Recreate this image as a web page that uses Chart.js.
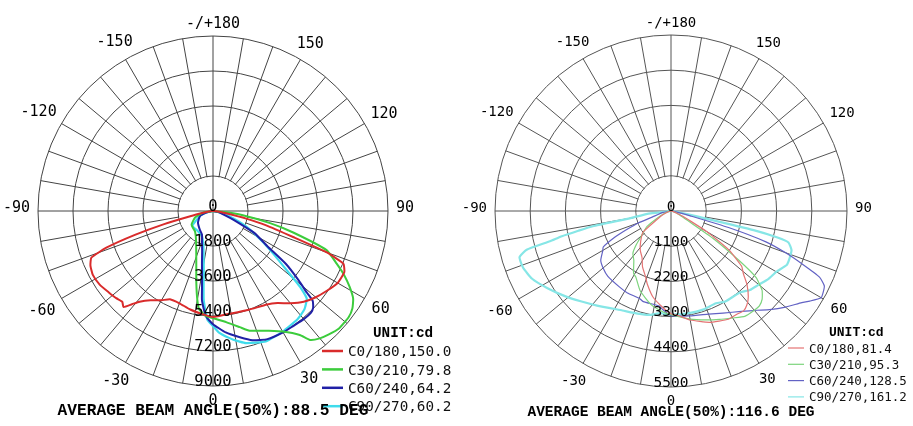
<!DOCTYPE html>
<html><head><meta charset="utf-8">
<script src="https://cdn.jsdelivr.net/npm/chart.js@4/dist/chart.umd.min.js"></script>
<style>
html,body{margin:0;padding:0;background:#fff;width:913px;height:426px;overflow:hidden}
#leftChart{position:absolute;left:0;top:0}
#rightChart{position:absolute;left:456px;top:0}
</style></head><body>
<canvas id="leftChart" width="456" height="426"></canvas>
<canvas id="rightChart" width="457" height="426"></canvas>
<script>
// ---------- categories / tick labels ----------
const angleMarks = [180, 150, 120, 90, 60, 30, 0, -30, -60, -90, -120, -150];
const angleMarkLabels = ['-/+180', '150', '120', '90', '60', '30', '0', '-30', '-60', '-90', '-120', '-150'];
const leftTicks = [0, 1800, 3600, 5400, 7200, 9000];
const rightTicks = [0, 1100, 2200, 3300, 4400, 5500];
const planeNames = ['C0/180', 'C30/210', 'C60/240', 'C90/270'];
const leftBeamAngles = [150.0, 79.8, 64.2, 60.2];
const rightBeamAngles = [81.4, 95.3, 128.5, 161.2];
const leftAverageBeam = 88.5;
const rightAverageBeam = 116.6;
const unitText = 'UNIT:cd';

// ---------- series values: [gamma angle (deg), intensity (cd)] ----------
const leftC0 = [[90,0],[85,200],[80,620],[77,1750],[75,2800],[72,4330],[70,6230],[68,7230],[65,7450],[60,7400],[55,7150],[50,6900],[45,6600],[40,6200],[35,5780],[30,5550],[20,5400],[10,5350],[0,5450],[-5,5350],[-13,5200],[-20,5050],[-26,5050],[-30,5300],[-35,5600],[-39,6000],[-41,6350],[-43,6750],[-45,6600],[-48,6700],[-52,6800],[-57,6950],[-62,7000],[-66,6900],[-69,6700],[-71,5800],[-73,4200],[-75,2600],[-77,1200],[-80,450],[-85,150],[-90,0]];
const leftC30 = [[90,0],[85,600],[82,1500],[78,3000],[75,4270],[71,6180],[67,6900],[64,7500],[61,8030],[58,8500],[55,8750],[52,8860],[47,8860],[43,8700],[40,8550],[37,8300],[35,7780],[30,7160],[25,6800],[21,6590],[17,6440],[13,6130],[7,5770],[0,5510],[-4,5410],[-8,5100],[-10,4640],[-13,3810],[-17,2940],[-22,2300],[-28,1850],[-35,1550],[-42,1390],[-50,1350],[-58,1300],[-70,980],[-81,520],[-90,0]];
const leftC60 = [[90,0],[80,260],[70,720],[67,1130],[62,2420],[57,3350],[54,4640],[51,5670],[49,6390],[48,6900],[46,7160],[44,7260],[40,7260],[35,7210],[30,7210],[23,7160],[17,6950],[12,6640],[6,6280],[0,5820],[-4,5410],[-7,4640],[-8,4070],[-10,3250],[-12,2730],[-15,2160],[-20,1650],[-25,1340],[-35,1180],[-52,980],[-69,720],[-76,360],[-85,100],[-90,0]];
const leftC90 = [[90,0],[80,260],[72,900],[65,1900],[59,2830],[55,3710],[52,4580],[49,5920],[47,6590],[43,6900],[38,7060],[30,7160],[22,7240],[14,7000],[9,6700],[3,6280],[0,5920],[-3,5590],[-6,4580],[-9,3040],[-12,2330],[-16,1800],[-25,1390],[-40,1290],[-54,1310],[-69,720],[-80,260],[-90,0]];

const rightC0 = [[90,0],[80,60],[70,160],[66,370],[63,640],[60,1300],[56,2190],[52,2800],[49,3000],[46,3300],[42,3610],[39,3770],[36,3860],[33,3830],[28,3830],[19,3680],[10,3460],[5,3300],[0,3210],[-5,3020],[-12,2740],[-18,2400],[-21,2210],[-27,1960],[-32,1710],[-38,1560],[-45,1340],[-53,1090],[-59,500],[-65,310],[-75,90],[-90,0]];
const rightC30 = [[90,0],[75,90],[65,310],[60,640],[57,1560],[54,2620],[52,3370],[49,3770],[46,3960],[43,4050],[40,4050],[35,4020],[30,3860],[24,3710],[18,3580],[10,3430],[0,3240],[-5,3150],[-12,2990],[-21,2680],[-28,2340],[-31,2270],[-37,1930],[-42,1780],[-46,1500],[-51,1150],[-57,900],[-65,370],[-75,120],[-90,0]];
const rightC60 = [[90,0],[85,60],[80,190],[76,620],[74,1870],[72,3120],[70,3800],[68,4420],[66,5080],[64,5330],[62,5390],[60,5420],[57,5170],[55,4990],[50,4670],[45,4360],[41,4110],[35,3830],[27,3580],[20,3430],[10,3330],[0,3270],[-5,3080],[-7,2990],[-17,2960],[-20,2900],[-28,2900],[-34,2870],[-44,2840],[-50,2770],[-55,2680],[-60,2460],[-62,2400],[-65,1930],[-67,1560],[-70,1090],[-72,620],[-80,250],[-90,0]];
const rightC90 = [[90,0],[85,90],[80,310],[78,930],[77,2650],[76,3430],[75,3800],[72,3960],[68,3990],[65,3990],[60,3800],[55,3710],[50,3580],[45,3490],[40,3330],[31,3300],[26,3210],[18,3240],[10,3240],[0,3240],[-6,3210],[-12,3320],[-18,3370],[-26,3460],[-38,3750],[-45,3990],[-51,4240],[-58,4550],[-64,4830],[-69,4950],[-73,4950],[-75,4670],[-76,3900],[-77,3500],[-78,2960],[-79,2490],[-80,1250],[-83,780],[-90,0]];

// ---------- helpers ----------
const gammaLabels = Array.from({length: 360}, (_, i) => 180 - i); // clockwise from top
function indexOfGamma(g) { return ((180 - g) % 360 + 360) % 360; }
function toRadarData(pairs) {
  const d = new Array(gammaLabels.length).fill(null);
  pairs.forEach(([g, v]) => { d[indexOfGamma(g)] = v; });
  return d;
}

function decorPlugin(o) {
  return {
    id: 'polarDecor',
    beforeDatasetsDraw(chart) {
      const s = chart.scales.r, ctx = chart.ctx;
      const r1 = s.getDistanceFromCenterForValue(o.ticks[1]);
      ctx.save();
      ctx.fillStyle = '#fff';
      ctx.beginPath(); ctx.arc(s.xCenter, s.yCenter, r1 - 0.7, 0, Math.PI * 2); ctx.fill();
      ctx.strokeStyle = o.gridColor; ctx.lineWidth = 1;
      [180, 90, 0, -90].forEach(g => {
        const p = s.getPointPosition(indexOfGamma(g), r1);
        ctx.beginPath(); ctx.moveTo(s.xCenter, s.yCenter); ctx.lineTo(p.x, p.y); ctx.stroke();
      });
      ctx.restore();
    },
    afterDatasetsDraw(chart) {
      const s = chart.scales.r, ctx = chart.ctx;
      const cx = s.xCenter, cy = s.yCenter, R = s.drawingArea;
      ctx.save();
      ctx.fillStyle = '#000';
      // radial tick labels along gamma = 0
      ctx.font = o.tickFont + 'px "DejaVu Sans Mono"';
      ctx.textAlign = 'center'; ctx.textBaseline = 'alphabetic';
      o.ticks.forEach(v => {
        const p = s.getPointPositionForValue(indexOfGamma(0), v);
        ctx.fillText(String(v), p.x, p.y - 0.5);
      });
      // angle labels
      ctx.font = o.angleFont + 'px "DejaVu Sans Mono"';
      const capH = 0.73 * o.angleFont;
      angleMarks.forEach((g, k) => {
        const txt = angleMarkLabels[k];
        const p = s.getPointPosition(indexOfGamma(g), 100);
        const ux = (p.x - cx) / 100, uy = (p.y - cy) / 100;
        const w = ctx.measureText(txt).width;
        const dist = R + o.labelPad + Math.abs(ux) * w / 2 + Math.abs(uy) * capH / 2;
        const yShift = Math.abs(ux) > 0.99 ? -4 : 0;
        ctx.fillText(txt, cx + ux * dist, cy + uy * dist + capH / 2 + yShift);
      });
      // legend
      ctx.textAlign = 'left';
      ctx.font = 'bold ' + o.unitFont + 'px "Liberation Mono"';
      ctx.fillText(unitText, o.unitX, o.unitY + 0.6 * o.unitFont / 2);
      ctx.font = o.legendFont + 'px "DejaVu Sans Mono"';
      chart.data.datasets.forEach((ds, i) => {
        const y = o.legendY0 + i * o.legendDy;
        ctx.strokeStyle = ds.borderColor; ctx.lineWidth = o.legendLineW;
        ctx.beginPath(); ctx.moveTo(o.lineX0, y); ctx.lineTo(o.lineX1, y); ctx.stroke();
        ctx.fillStyle = '#111';
        ctx.fillText(ds.label, o.textX, y + 0.73 * o.legendFont / 2);
      });
      // beam angle caption
      ctx.fillStyle = '#000';
      ctx.textAlign = 'center';
      ctx.font = 'bold ' + o.titleFont + 'px "Liberation Mono"';
      ctx.fillText(o.title, cx + o.titleDx, o.titleY);
      ctx.restore();
    }
  };
}

function makeChart(id, series, beams, colors, widths, o) {
  const datasets = series.map((pairs, i) => ({
    label: planeNames[i] + ',' + beams[i].toFixed(1),
    data: toRadarData(pairs),
    borderColor: colors[i],
    borderWidth: widths[i],
    pointRadius: 0,
    pointHoverRadius: 0,
    fill: false,
    tension: 0.15,
    spanGaps: true
  }));
  return new Chart(document.getElementById(id), {
    type: 'radar',
    data: { labels: gammaLabels, datasets },
    options: {
      responsive: false,
      animation: false,
      devicePixelRatio: 1,
      layout: { padding: o.padding },
      plugins: { legend: { display: false }, tooltip: { enabled: false } },
      scales: {
        r: {
          min: o.ticks[0], max: o.ticks[o.ticks.length - 1],
          startAngle: 0,
          ticks: { display: false, stepSize: o.ticks[1] - o.ticks[0] },
          grid: { circular: true, color: o.gridColor, lineWidth: 1 },
          angleLines: {
            display: true, color: o.gridColor,
            lineWidth: ctx => (gammaLabels[ctx.index] % 10 === 0 ? 1 : 0)
          },
          pointLabels: { display: false }
        }
      }
    },
    plugins: [decorPlugin(o)]
  });
}

makeChart('leftChart', [leftC0, leftC30, leftC60, leftC90], leftBeamAngles,
  ['#d92b2b', '#3ccc3c', '#2020a6', '#3fdcec'], [2, 2, 2, 2.2], {
    ticks: leftTicks, gridColor: '#444',
    padding: { left: 38, right: 68, top: 36, bottom: 40 },
    tickFont: 15.5, angleFont: 15, labelPad: 8,
    unitFont: 14.3, unitX: 373, unitY: 333,
    legendFont: 14.3, legendY0: 351, legendDy: 18.4, lineX0: 322, lineX1: 343, textX: 348, legendLineW: 2.5,
    titleFont: 16.2, titleY: 414.5, titleDx: 0,
    title: 'AVERAGE BEAM ANGLE(50%):' + leftAverageBeam.toFixed(1) + ' DEG'
  });

makeChart('rightChart', [rightC0, rightC30, rightC60, rightC90], rightBeamAngles,
  ['#e47474', '#7cd47c', '#6262c4', '#86e6e6'], [1.2, 1.2, 1.2, 2.2], {
    ticks: rightTicks, gridColor: '#555',
    padding: { left: 39, right: 66, top: 35, bottom: 39 },
    tickFont: 14.5, angleFont: 14, labelPad: 8,
    unitFont: 13, unitX: 373, unitY: 332,
    legendFont: 12.5, legendY0: 348, legendDy: 16.3, lineX0: 332, lineX1: 348, textX: 353, legendLineW: 1.2,
    titleFont: 14.5, titleY: 416, titleDx: 0,
    title: 'AVERAGE BEAM ANGLE(50%):' + rightAverageBeam.toFixed(1) + ' DEG'
  });
</script>
</body></html>
